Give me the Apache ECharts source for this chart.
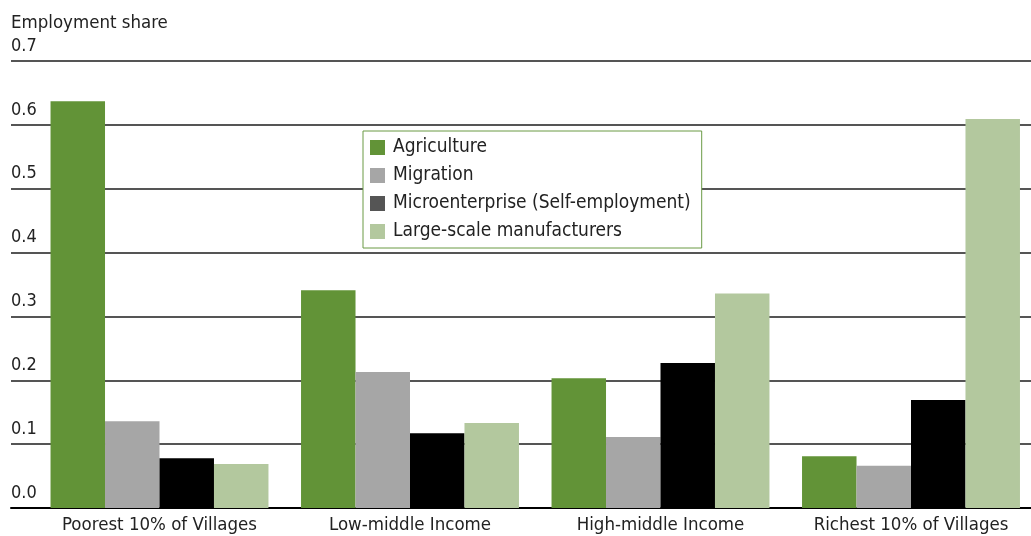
<!DOCTYPE html>
<html>
<head>
<meta charset="utf-8">
<script src="https://cdn.jsdelivr.net/npm/echarts@6/dist/echarts.min.js"></script>
<style>
  html, body { margin: 0; padding: 0; background: #fff; }
  #chart { width: 1031px; height: 536px; }
</style>
</head>
<body>
<div id="chart"></div>
<script>
// data
const categories = ['Poorest 10% of Villages', 'Low-middle Income', 'High-middle Income', 'Richest 10% of Villages'];
const seriesNames = ['Agriculture', 'Migration', 'Microenterprise (Self-employment)', 'Large-scale manufacturers'];
const agriculture = [0.637, 0.341, 0.203, 0.081];
const migration = [0.136, 0.213, 0.111, 0.066];
const microenterprise = [0.078, 0.117, 0.227, 0.169];
const manufacturers = [0.069, 0.133, 0.336, 0.609];
const yTicks = [0, 0.1, 0.2, 0.3, 0.4, 0.5, 0.6, 0.7];

const colors = ['#629337', '#a6a6a6', '#000000', '#b3c89e'];
const legendColors = ['#629337', '#a6a6a6', '#555555', '#b3c89e'];
const FONT = '"DejaVu Sans Condensed", "Liberation Sans Narrow", sans-serif';

let dom = document.getElementById('chart');
let chart = echarts.init(dom);

let values = [agriculture, migration, microenterprise, manufacturers];
let series = seriesNames.map(function (name, i) {
    return {
        name: name,
        type: 'bar',
        xAxisIndex: 1,
        yAxisIndex: 1,
        barGap: '0%',
        barCategoryGap: '13%',
        itemStyle: { color: colors[i] },
        data: values[i]
    };
});

let option = {
    animation: false,
    textStyle: { fontFamily: FONT },
    legend: {
        orient: 'vertical',
        left: 363,
        top: 131,
        padding: [7, 11, 7, 7],
        itemWidth: 15,
        itemHeight: 15,
        itemGap: 9,
        borderColor: '#6a9a45',
        borderWidth: 1,
        backgroundColor: '#ffffff',
        icon: 'rect',
        textStyle: { fontFamily: FONT, fontSize: 19, color: '#222', padding: [0, 0, 0, 3] },
        data: seriesNames.map(function (n, i) {
            return { name: n, itemStyle: { color: legendColors[i] } };
        })
    },
    grid: [
        { left: 11, right: 0, top: 61, bottom: 28, outerBoundsMode: 'none' },
        { left: 34.25, width: 1002, top: 61, bottom: 28, outerBoundsMode: 'none' }
    ],
    xAxis: [
        {
            type: 'value', gridIndex: 0, min: 0, max: 1,
            axisLine: { show: true, lineStyle: { color: '#000', width: 2 } },
            axisTick: { show: false }, axisLabel: { show: false }, splitLine: { show: false }
        },
        {
            type: 'category', gridIndex: 1, data: categories,
            axisLine: { show: false }, axisTick: { show: false },
            axisLabel: { interval: 0, margin: 8, fontFamily: FONT, fontSize: 18.5, color: '#222' }
        }
    ],
    yAxis: [
        {
            type: 'value', gridIndex: 0, min: yTicks[0], max: yTicks[yTicks.length - 1], interval: 0.1,
            name: 'Employment share',
            nameLocation: 'end',
            nameGap: 28,
            nameTextStyle: { align: 'left', fontFamily: FONT, fontSize: 18.5, color: '#222' },
            axisLine: { show: false }, axisTick: { show: false },
            axisLabel: {
                inside: true, margin: 0, verticalAlign: 'bottom', padding: [0, 0, 6, 0],
                fontFamily: FONT, fontSize: 18, color: '#222',
                formatter: function (v) { return v.toFixed(1); }
            },
            splitLine: { lineStyle: { color: '#555', width: 2 } }
        },
        { type: 'value', gridIndex: 1, min: 0, max: 0.7, show: false }
    ],
    series: series
};

option && chart.setOption(option);
</script>
</body>
</html>
